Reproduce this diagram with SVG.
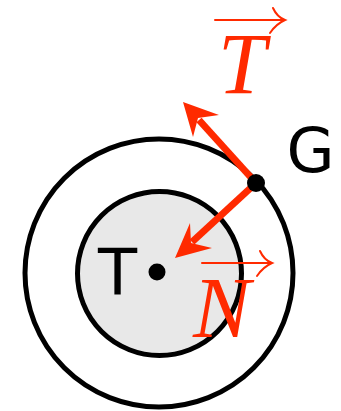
<svg xmlns="http://www.w3.org/2000/svg" width="341" height="411" viewBox="0 0 341 411">
<style>
.ring{fill:none;stroke:#000;stroke-width:5}
.lbl{font-family:"DejaVu Sans",sans-serif;fill:#000}
.vec{font-family:"Liberation Serif",serif;font-style:italic;fill:#ff2a00}
.shaft{stroke:#ff2a00;stroke-width:7;fill:none}
.head{fill:#ff2a00}
.ovr{stroke:#ff2a00;stroke-width:2;fill:none;stroke-linecap:round}
</style>
<rect width="341" height="411" fill="#fff"/>
<g id="outer"><circle class="ring" cx="159" cy="273" r="134"/></g>
<g id="inner"><circle cx="159.5" cy="273.5" r="82" fill="#e8e8e8" stroke="#000" stroke-width="5"/></g>
<g id="connectors">
<g id="arrowT">
<line class="shaft" x1="256" y1="183" x2="199" y2="120"/>
<polygon class="head" points="183,102 219,115 198,118 193,137"/>
</g>
<g id="arrowN">
<line class="shaft" x1="256" y1="183" x2="192" y2="242"/>
<polygon class="head" points="175,258 190,223 191,243 212,248"/>
</g>
</g>
<g id="T">
<circle cx="157" cy="272" r="8.5" fill="#000"/>
<text class="lbl" x="98" y="295" font-size="64">T</text>
</g>
<g id="G">
<circle cx="256" cy="183" r="9" fill="#000"/>
<text class="lbl" x="286.5" y="172" font-size="62">G</text>
</g>
<g id="vecT">
<text class="vec" x="218" y="93" font-size="86">T</text>
<path class="ovr" d="M215 20 H284 M273 8 Q277 17 285 20 Q276 24 270 33"/>
</g>
<g id="vecN">
<text class="vec" x="193" y="337" font-size="86">N</text>
<path class="ovr" d="M202 263 H271 M260 251 Q264 260 272 263 Q263 267 257 276"/>
</g>
</svg>
